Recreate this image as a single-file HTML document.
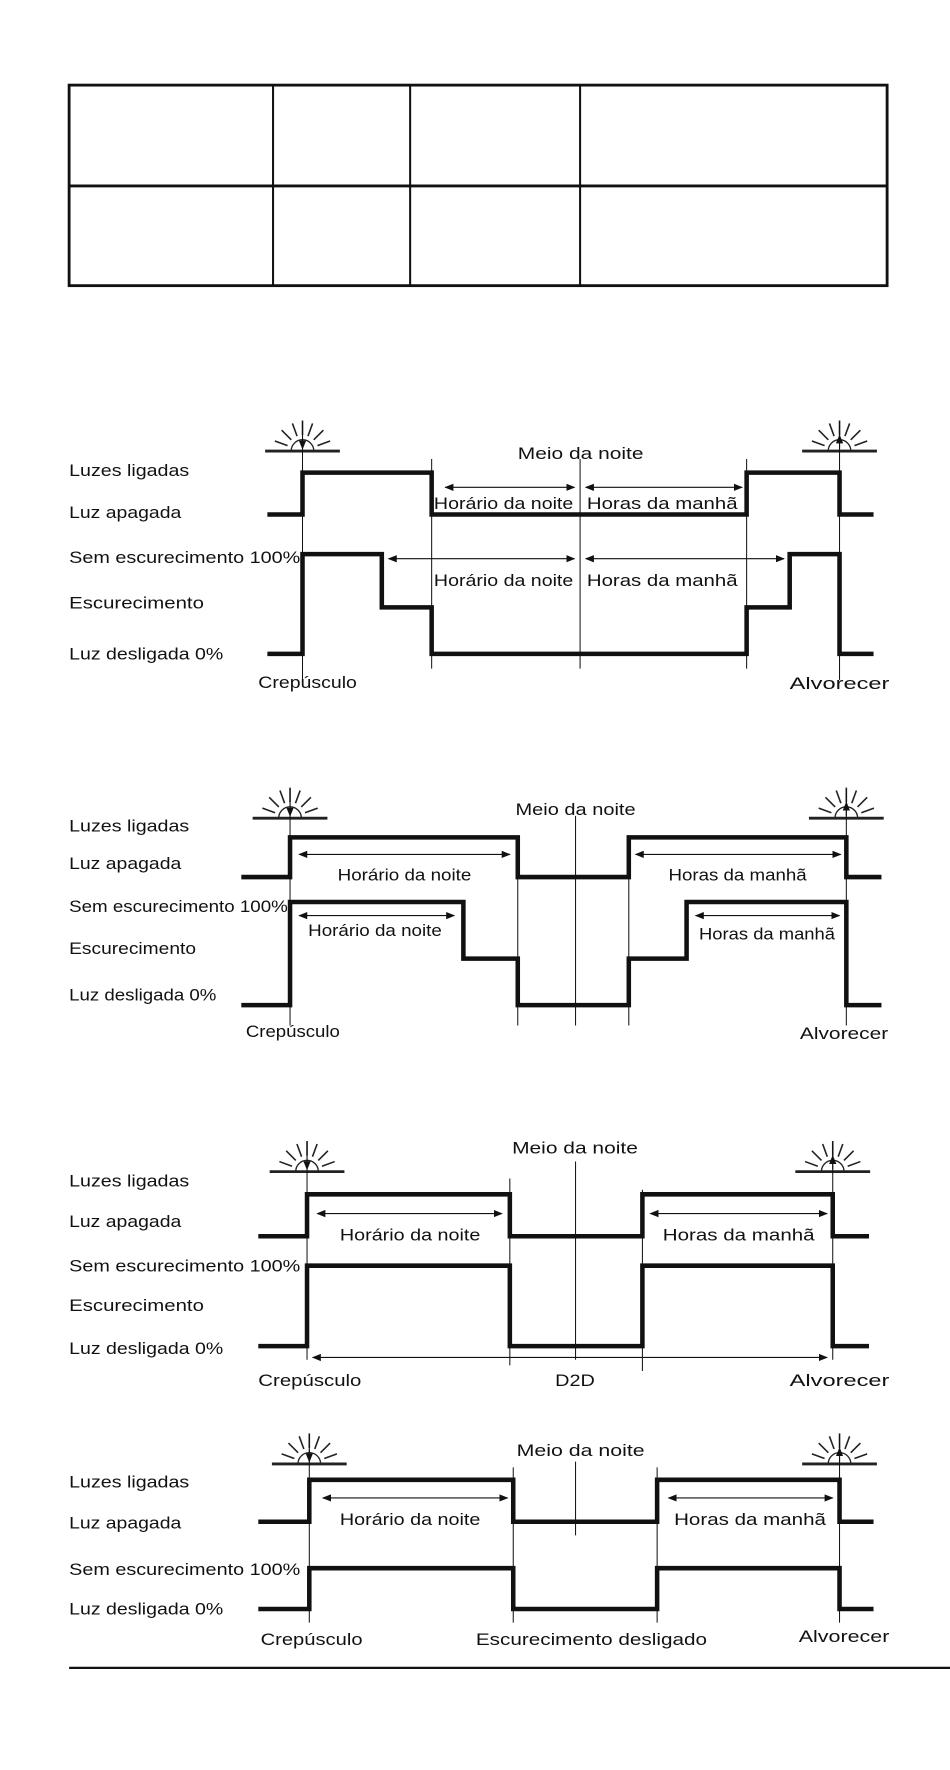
<!DOCTYPE html>
<html><head><meta charset="utf-8"><style>
html,body{margin:0;padding:0;background:#fff;width:950px;height:1770px;overflow:hidden}
svg{display:block}
text{font-family:"Liberation Sans Narrow","Liberation Sans",sans-serif;font-size:15px;fill:#111}
.ar{stroke:#111;stroke-width:1;fill:none;marker-start:url(#as);marker-end:url(#ah)}
</style></head><body>
<svg width="950" height="1770" viewBox="0 0 838.5 1562" xmlns="http://www.w3.org/2000/svg">
<defs>
<marker id="ah" viewBox="0 0 10 10" refX="9" refY="5" markerWidth="8" markerHeight="8" markerUnits="userSpaceOnUse" orient="auto"><path d="M0,1 L10,5 L0,9 z" fill="#111"/></marker>
<marker id="as" viewBox="0 0 10 10" refX="1" refY="5" markerWidth="8" markerHeight="8" markerUnits="userSpaceOnUse" orient="auto"><path d="M10,1 L0,5 L10,9 z" fill="#111"/></marker>
<g id="sun" stroke="#222" fill="none">
<path d="M-33,0 H33" stroke-width="2.5"/>
<path d="M-10,0 A10,10 0 0 1 10,0" stroke-width="1.2"/>
<g stroke-width="1.4">
<path d="M13.2,-4.8 L24.4,-8.9 M9.9,-9.9 L18.4,-18.4 M4.8,-13.2 L8.9,-24.4 M0,-14 L0,-27 M-4.8,-13.2 L-8.9,-24.4 M-9.9,-9.9 L-18.4,-18.4 M-13.2,-4.8 L-24.4,-8.9"/>
</g>
</g>
</defs>
<!-- table -->
<g stroke="#111" fill="none">
<rect x="61" y="75" width="722" height="177" stroke-width="2.5"/>
<path d="M61,164 H783" stroke-width="2.5"/>
<path d="M241,75 V252 M362,75 V252 M512,75 V252" stroke-width="1.8"/>
</g>

<!-- CHART 1 -->
<g stroke="#111" fill="none">
<use href="#sun" x="267" y="398"/><use href="#sun" x="741" y="398"/>
<path d="M267,372 V600 M741,372 V600 M381,405 V590 M512,405 V590 M659,405 V590" stroke-width="0.9"/>
<path d="M267,385 V396" stroke-width="1" marker-end="url(#ah)"/>
<path d="M741,396 V384" stroke-width="1" marker-end="url(#ah)"/>
<path d="M236,454 H267 V417 H381 V454 H659 V417 H741 V454 H771" stroke-width="4"/>
<path d="M236,577 H267 V489 H337 V536 H381 V577 H659 V536 H697 V489 H741 V577 H771" stroke-width="4"/>
</g>
<path class="ar" d="M393,430 H507"/><path class="ar" d="M517,430 H655"/>
<path class="ar" d="M343,493 H507"/><path class="ar" d="M517,493 H692"/>
<text x="61" y="420" textLength="106" lengthAdjust="spacingAndGlyphs">Luzes ligadas</text>
<text x="61" y="457" textLength="99" lengthAdjust="spacingAndGlyphs">Luz apagada</text>
<text x="61" y="497" textLength="204" lengthAdjust="spacingAndGlyphs">Sem escurecimento 100%</text>
<text x="61" y="537" textLength="119" lengthAdjust="spacingAndGlyphs">Escurecimento</text>
<text x="61" y="582" textLength="136" lengthAdjust="spacingAndGlyphs">Luz desligada 0%</text>
<text x="457" y="405" textLength="111" lengthAdjust="spacingAndGlyphs">Meio da noite</text>
<text x="383" y="449" textLength="123" lengthAdjust="spacingAndGlyphs">Horário da noite</text>
<text x="518" y="449" textLength="133" lengthAdjust="spacingAndGlyphs">Horas da manhã</text>
<text x="383" y="517" textLength="123" lengthAdjust="spacingAndGlyphs">Horário da noite</text>
<text x="518" y="517" textLength="133" lengthAdjust="spacingAndGlyphs">Horas da manhã</text>
<text x="228" y="607" textLength="87" lengthAdjust="spacingAndGlyphs">Crepúsculo</text>
<text x="697" y="608" textLength="88" lengthAdjust="spacingAndGlyphs">Alvorecer</text>

<!-- CHART 2 -->
<g stroke="#111" fill="none">
<use href="#sun" x="256" y="722"/><use href="#sun" x="747" y="722"/>
<path d="M256,696 V905 M747,696 V905 M457,740 V905 M508,720 V905 M555,740 V905" stroke-width="0.9"/>
<path d="M256,709 V720" stroke-width="1" marker-end="url(#ah)"/>
<path d="M747,720 V708" stroke-width="1" marker-end="url(#ah)"/>
<path d="M213,774 H256 V739 H457 V774 H555 V739 H747 V774 H778" stroke-width="4"/>
<path d="M213,887 H256 V796 H409 V846 H457 V887 H555 V846 H606 V796 H747 V887 H778" stroke-width="4"/>
</g>
<path class="ar" d="M264,754 H450"/><path class="ar" d="M561,754 H742"/>
<path class="ar" d="M264,808 H401"/><path class="ar" d="M614,808 H741"/>
<text x="61" y="734" textLength="106" lengthAdjust="spacingAndGlyphs">Luzes ligadas</text>
<text x="61" y="767" textLength="99" lengthAdjust="spacingAndGlyphs">Luz apagada</text>
<text x="61" y="805" textLength="193" lengthAdjust="spacingAndGlyphs">Sem escurecimento 100%</text>
<text x="61" y="842" textLength="112" lengthAdjust="spacingAndGlyphs">Escurecimento</text>
<text x="61" y="883" textLength="130" lengthAdjust="spacingAndGlyphs">Luz desligada 0%</text>
<text x="455" y="719" textLength="106" lengthAdjust="spacingAndGlyphs">Meio da noite</text>
<text x="298" y="777" textLength="118" lengthAdjust="spacingAndGlyphs">Horário da noite</text>
<text x="590" y="777" textLength="122" lengthAdjust="spacingAndGlyphs">Horas da manhã</text>
<text x="272" y="826" textLength="118" lengthAdjust="spacingAndGlyphs">Horário da noite</text>
<text x="617" y="829" textLength="120" lengthAdjust="spacingAndGlyphs">Horas da manhã</text>
<text x="217" y="915" textLength="83" lengthAdjust="spacingAndGlyphs">Crepúsculo</text>
<text x="706" y="917" textLength="78" lengthAdjust="spacingAndGlyphs">Alvorecer</text>

<!-- CHART 3 -->
<g stroke="#111" fill="none">
<use href="#sun" x="271" y="1034"/><use href="#sun" x="735" y="1034"/>
<path d="M271,1008 V1200 M735,1008 V1200 M450,1040 V1205 M508,1025 V1200 M567,1050 V1210" stroke-width="0.9"/>
<path d="M271,1021 V1032" stroke-width="1" marker-end="url(#ah)"/>
<path d="M735,1032 V1020" stroke-width="1" marker-end="url(#ah)"/>
<path d="M228,1091 H271 V1054 H450 V1091 H567 V1054 H735 V1091 H767" stroke-width="4"/>
<path d="M228,1188 H271 V1117 H450 V1188 H567 V1117 H735 V1188 H767" stroke-width="4"/>
</g>
<path class="ar" d="M280,1071 H443"/><path class="ar" d="M574,1071 H730"/>
<path class="ar" d="M276,1198 H730"/>
<text x="61" y="1047" textLength="106" lengthAdjust="spacingAndGlyphs">Luzes ligadas</text>
<text x="61" y="1083" textLength="99" lengthAdjust="spacingAndGlyphs">Luz apagada</text>
<text x="61" y="1122" textLength="204" lengthAdjust="spacingAndGlyphs">Sem escurecimento 100%</text>
<text x="61" y="1157" textLength="119" lengthAdjust="spacingAndGlyphs">Escurecimento</text>
<text x="61" y="1195" textLength="136" lengthAdjust="spacingAndGlyphs">Luz desligada 0%</text>
<text x="452" y="1018" textLength="111" lengthAdjust="spacingAndGlyphs">Meio da noite</text>
<text x="300" y="1095" textLength="124" lengthAdjust="spacingAndGlyphs">Horário da noite</text>
<text x="585" y="1095" textLength="134" lengthAdjust="spacingAndGlyphs">Horas da manhã</text>
<text x="490" y="1223" textLength="35" lengthAdjust="spacingAndGlyphs">D2D</text>
<text x="228" y="1223" textLength="91" lengthAdjust="spacingAndGlyphs">Crepúsculo</text>
<text x="697" y="1223" textLength="88" lengthAdjust="spacingAndGlyphs">Alvorecer</text>

<!-- CHART 4 -->
<g stroke="#111" fill="none">
<use href="#sun" x="273" y="1292"/><use href="#sun" x="741" y="1292"/>
<path d="M273,1266 V1432 M741,1266 V1432 M453,1295 V1432 M508,1290 V1355 M580,1295 V1432" stroke-width="0.9"/>
<path d="M273,1279 V1290" stroke-width="1" marker-end="url(#ah)"/>
<path d="M741,1290 V1278" stroke-width="1" marker-end="url(#ah)"/>
<path d="M228,1343 H273 V1306 H453 V1343 H580 V1306 H741 V1343 H771" stroke-width="4"/>
<path d="M228,1420 H273 V1384 H453 V1420 H580 V1384 H741 V1420 H771" stroke-width="4"/>
<path d="M61,1472 H840" stroke-width="2"/>
</g>
<path class="ar" d="M285,1322 H448"/><path class="ar" d="M590,1322 H735"/>
<text x="61" y="1313" textLength="106" lengthAdjust="spacingAndGlyphs">Luzes ligadas</text>
<text x="61" y="1349" textLength="99" lengthAdjust="spacingAndGlyphs">Luz apagada</text>
<text x="61" y="1390" textLength="204" lengthAdjust="spacingAndGlyphs">Sem escurecimento 100%</text>
<text x="61" y="1425" textLength="136" lengthAdjust="spacingAndGlyphs">Luz desligada 0%</text>
<text x="456" y="1285" textLength="113" lengthAdjust="spacingAndGlyphs">Meio da noite</text>
<text x="300" y="1346" textLength="124" lengthAdjust="spacingAndGlyphs">Horário da noite</text>
<text x="595" y="1346" textLength="134" lengthAdjust="spacingAndGlyphs">Horas da manhã</text>
<text x="230" y="1452" textLength="90" lengthAdjust="spacingAndGlyphs">Crepúsculo</text>
<text x="420" y="1452" textLength="204" lengthAdjust="spacingAndGlyphs">Escurecimento desligado</text>
<text x="705" y="1449" textLength="80" lengthAdjust="spacingAndGlyphs">Alvorecer</text>
</svg>
</body></html>
